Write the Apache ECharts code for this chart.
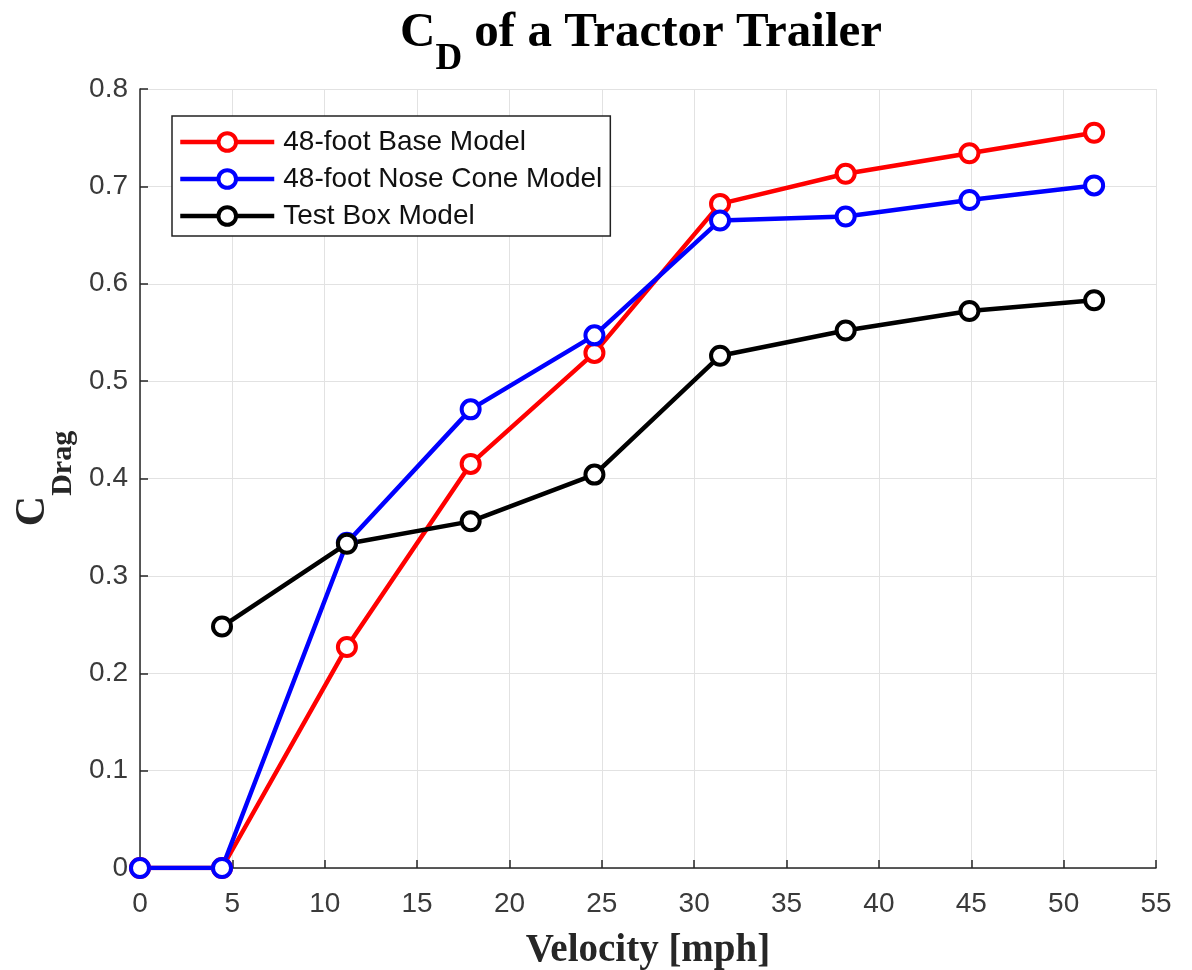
<!DOCTYPE html>
<html>
<head>
<meta charset="utf-8">
<script src="https://cdn.jsdelivr.net/npm/echarts@6/dist/echarts.min.js"></script>
<style>html,body{margin:0;padding:0;background:#fff}#c{width:1192px;height:970px}</style>
</head>
<body>
<div id="c"></div>
<script>
const velocity = [0, 4.44, 11.2, 17.9, 24.6, 31.4, 38.2, 44.9, 51.65];
const baseModel = [0, 0, 0.227, 0.415, 0.529, 0.682, 0.713, 0.734, 0.755];
const noseConeModel = [0, 0, 0.334, 0.471, 0.547, 0.665, 0.669, 0.686, 0.701];
const testBoxVelocity = [4.44, 11.2, 17.9, 24.6, 31.4, 38.2, 44.9, 51.65];
const testBoxModel = [0.248, 0.333, 0.356, 0.404, 0.526, 0.552, 0.572, 0.583];
const seriesNames = ['48-foot Base Model', '48-foot Nose Cone Model', 'Test Box Model'];
const xTicks = [0, 5, 10, 15, 20, 25, 30, 35, 40, 45, 50, 55];
const yTicks = [0, 0.1, 0.2, 0.3, 0.4, 0.5, 0.6, 0.7, 0.8];

const pair = (xs, ys) => xs.map((x, i) => [x, ys[i]]);
const chart = echarts.init(document.getElementById('c'));
const mk = (name, data, color) => ({
  name, type: 'line', data, color,
  symbol: 'circle', symbolSize: 18,
  lineStyle: { width: 4.5, color },
  itemStyle: { color: '#ffffff', borderColor: color, borderWidth: 4 },
  animation: false
});
chart.setOption({
  backgroundColor: '#fff',
  title: {
    text: '{c|C}{s|D}{t| of a Tractor Trailer}',
    left: 395, top: 4,
    textStyle: {
      rich: {
        c: { fontFamily: 'Liberation Serif', fontWeight: 'bold', fontSize: 49, color: '#000', verticalAlign: 'top', lineHeight: 56 },
        s: { fontFamily: 'Liberation Serif', fontWeight: 'bold', fontSize: 37, color: '#000', verticalAlign: 'bottom', lineHeight: 69 },
        t: { fontFamily: 'Liberation Serif', fontWeight: 'bold', fontSize: 49, color: '#000', verticalAlign: 'top', lineHeight: 56 }
      }
    }
  },
  legend: {
    data: seriesNames,
    left: 172, top: 116, orient: 'vertical',
    itemWidth: 94, itemHeight: 22, itemGap: 9,
    padding: [12, 8, 6, 6],
    borderColor: '#222', borderWidth: 1.5, backgroundColor: '#fff',
    lineStyle: { width: 4.5 },
    itemStyle: { borderWidth: 4 },
    textStyle: { fontFamily: 'Liberation Sans', fontSize: 28, color: '#111', padding: [0, 0, 0, 4] }
  },
  grid: { left: 140, right: 36, top: 89, bottom: 102, outerBoundsMode: 'none', containLabel: false },
  xAxis: {
    type: 'value', min: 0, max: 55, interval: 5,
    name: 'Velocity [mph]', nameLocation: 'middle', nameGap: 63,
    nameTextStyle: { fontFamily: 'Liberation Serif', fontWeight: 'bold', fontSize: 39, color: '#262626' },
    axisLine: { show: true, lineStyle: { color: '#262626', width: 1.5 } },
    axisTick: { show: true, inside: true, length: 8, lineStyle: { color: '#262626', width: 1.5 } },
    axisLabel: { fontFamily: 'Liberation Sans', fontSize: 28, color: '#3a3a3a', margin: 22, formatter: v => xTicks.includes(v) ? String(v) : '' },
    splitLine: { show: true, lineStyle: { color: '#e2e2e2', width: 1 } }
  },
  yAxis: {
    type: 'value', min: 0, max: 0.8, interval: 0.1,
    name: '{c|C}{s|Drag}', nameLocation: 'middle', nameGap: 56, nameRotate: 90,
    nameTextStyle: {
      rich: {
        c: { fontFamily: 'Liberation Serif', fontWeight: 'bold', fontSize: 42, color: '#262626', verticalAlign: 'top', lineHeight: 48 },
        s: { fontFamily: 'Liberation Serif', fontWeight: 'bold', fontSize: 30, color: '#262626', verticalAlign: 'bottom', lineHeight: 66 }
      }
    },
    axisLine: { show: true, lineStyle: { color: '#262626', width: 1.5 } },
    axisTick: { show: true, inside: true, length: 8, lineStyle: { color: '#262626', width: 1.5 } },
    axisLabel: { fontFamily: 'Liberation Sans', fontSize: 28, color: '#3a3a3a', margin: 12,
      formatter: v => { const r = Math.round(v * 10) / 10; return yTicks.includes(r) ? (r === 0 ? '0' : r.toFixed(1)) : ''; } },
    splitLine: { show: true, lineStyle: { color: '#e2e2e2', width: 1 } }
  },
  series: [
    mk(seriesNames[0], pair(velocity, baseModel), '#ff0000'),
    mk(seriesNames[1], pair(velocity, noseConeModel), '#0000ff'),
    mk(seriesNames[2], pair(testBoxVelocity, testBoxModel), '#000000')
  ]
});
</script>
</body>
</html>
